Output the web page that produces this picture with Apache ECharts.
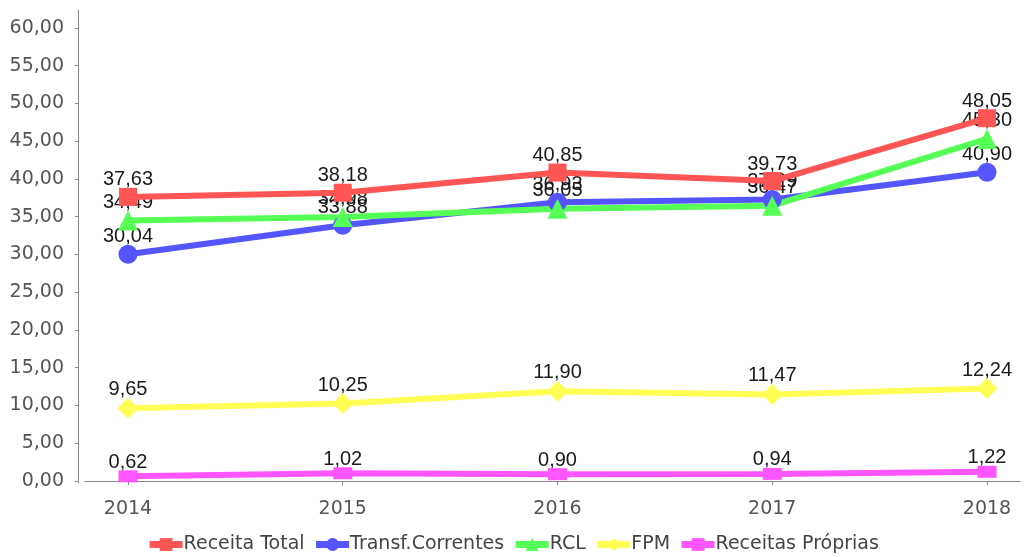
<!DOCTYPE html>
<html>
<head>
<meta charset="utf-8">
<script src="https://cdn.jsdelivr.net/npm/echarts@6/dist/echarts.min.js"></script>
<style>
  html, body { margin: 0; padding: 0; background: #fff; }
  #chart { width: 1025px; height: 557px; }
</style>
</head>
<body>
<div id="chart"></div>
<script>
// Anos e valores por série (em milhões)
const years = [2014, 2015, 2016, 2017, 2018];
const receitaTotal = [37.63, 38.18, 40.85, 39.73, 48.05];
const transfCorrentes = [30.04, 33.88, 36.93, 37.29, 40.90];
const rcl = [34.49, 34.98, 36.05, 36.47, 45.30];
const fpm = [9.65, 10.25, 11.90, 11.47, 12.24];
const receitasProprias = [0.62, 1.02, 0.90, 0.94, 1.22];
const yTicks = [0, 5, 10, 15, 20, 25, 30, 35, 40, 45, 50, 55, 60];

const AXIS_FONT = 'DejaVu Sans';
const VALUE_FONT = 'Liberation Sans';
const fmt = v => v.toFixed(2).replace('.', ',');

const seriesDefs = [
  { name: 'Receita Total', values: receitaTotal, color: '#ff5555', symbol: 'rect', size: 18 },
  { name: 'Transf.Correntes', values: transfCorrentes, color: '#5555ff', symbol: 'circle', size: 19 },
  { name: 'RCL', values: rcl, color: '#55ff55', symbol: 'triangle', size: 20 },
  { name: 'FPM', values: fpm, color: '#ffff55', symbol: 'diamond', size: 21 },
  { name: 'Receitas Próprias', values: receitasProprias, color: '#ff55ff', symbol: 'rect', size: [19, 12] }
];

const toPoints = values => years.map((y, i) => [y, values[i]]);

// Value labels sit underneath every line and marker
const labelSeries = seriesDefs.map(d => ({
  name: d.name + ' (rótulos)',
  type: 'line',
  z: 1,
  silent: true,
  data: toPoints(d.values),
  symbol: d.symbol,
  symbolSize: d.size,
  showAllSymbol: true,
  lineStyle: { color: 'rgba(0,0,0,0)', width: 0 },
  itemStyle: { color: 'rgba(0,0,0,0)', borderWidth: 0 },
  label: {
    show: true,
    position: 'top',
    distance: -2,
    color: '#1a1a1a',
    fontFamily: VALUE_FONT,
    fontSize: 20,
    formatter: p => fmt(p.value[1])
  },
  labelLayout: { hideOverlap: false },
  emphasis: { disabled: true },
  animation: false
}));

const lineSeries = seriesDefs.map(d => ({
  name: d.name,
  type: 'line',
  z: 3,
  data: toPoints(d.values),
  symbol: d.symbol,
  symbolSize: d.size,
  showAllSymbol: true,
  lineStyle: { color: d.color, width: 6 },
  itemStyle: { color: d.color },
  label: { show: false },
  emphasis: { disabled: true },
  animation: false
}));

const chart = echarts.init(document.getElementById('chart'), null, { renderer: 'canvas' });
chart.setOption({
  backgroundColor: '#ffffff',
  animation: false,
  grid: { left: 85, right: 5, top: 10, bottom: 74, containLabel: false },
  xAxis: {
    type: 'value',
    min: 2013.7998,
    max: 2018.1537,
    offset: 5,
    splitLine: { show: false },
    axisLine: { show: true, lineStyle: { color: '#888', width: 1 } },
    axisTick: { show: true, customValues: years, length: 4, lineStyle: { color: '#888' } },
    axisLabel: {
      customValues: years,
      formatter: v => String(Math.round(v)),
      color: '#555',
      fontFamily: AXIS_FONT,
      fontSize: 19,
      margin: 12
    }
  },
  yAxis: {
    type: 'value',
    min: -0.265,
    max: 62.384,
    offset: 7,
    splitLine: { show: false },
    axisLine: { show: true, lineStyle: { color: '#888', width: 1 } },
    axisTick: { show: true, customValues: yTicks, length: 3, lineStyle: { color: '#888' } },
    axisLabel: {
      customValues: yTicks,
      formatter: v => fmt(v),
      color: '#555',
      fontFamily: AXIS_FONT,
      fontSize: 19,
      margin: 14
    }
  },
  legend: {
    bottom: -2,
    left: 'center',
    itemWidth: 33,
    itemHeight: 16,
    itemGap: 8,
    lineStyle: { width: 7 },
    textStyle: { color: '#444', fontFamily: AXIS_FONT, fontSize: 19, padding: [0, 0, 0, -4] },
    data: seriesDefs.map(d => d.name)
  },
  series: labelSeries.concat(lineSeries)
});
</script>
</body>
</html>
